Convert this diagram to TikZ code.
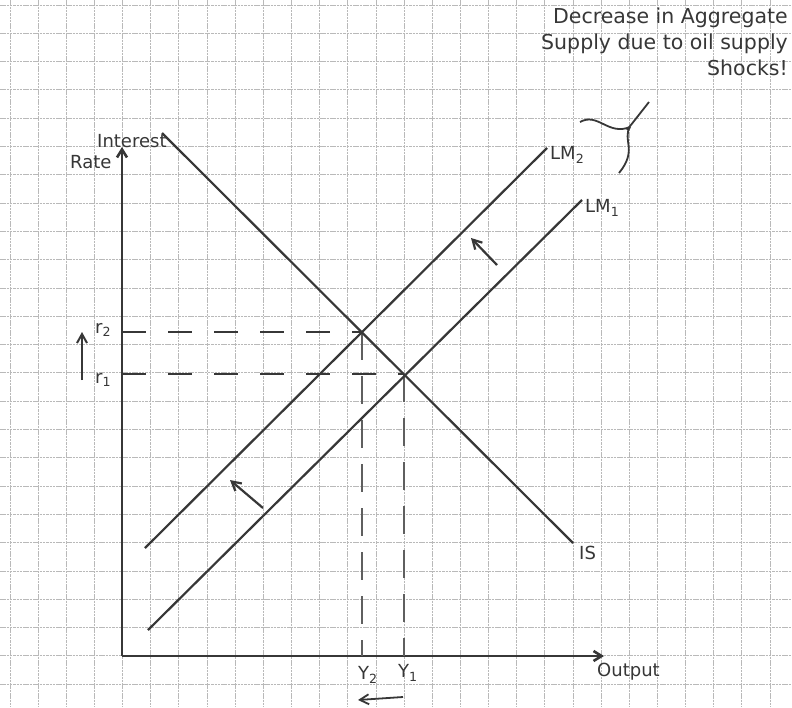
\documentclass[tikz,border=0pt]{standalone}
\usepackage{fontspec}
\setmainfont{DejaVu Sans}
\usetikzlibrary{arrows.meta}
\definecolor{pencil}{RGB}{55,55,55}
\definecolor{gridc}{RGB}{185,185,185}
\tikzset{
  gridline/.style={draw=gridc,line width=0.9pt,dash pattern=on 2.5pt off 0.8pt},
  curve/.style={draw=pencil,line width=2.2pt},
  axisline/.style={draw=pencil,line width=2.6pt},
  hdash/.style={draw=pencil,line width=2.2pt,dash pattern=on 24pt off 22pt},
  vdash/.style={draw=pencil!80,line width=2.8pt,dash pattern=on 28pt off 16pt},
  shiftarrow/.style={draw=pencil,line width=2.2pt,-{Straight Barb[length=9pt,width=10pt]}},
  hand/.style={text=pencil,font=\fontsize{18}{20}\selectfont,inner sep=0pt},
  title/.style={text=pencil,font=\fontsize{20.5}{26}\selectfont,inner sep=0pt,align=right}
}
\begin{document}
\begin{tikzpicture}[x=1pt,y=-1pt]
\useasboundingbox (0,0) rectangle (792,707);
\fill[white] (0,0) rectangle (792,707);
% grid
\foreach \i in {0,...,27} \draw[gridline] ({10+28.15*\i},0) -- ({10+28.15*\i},707);
\foreach \j in {0,...,24} \draw[gridline] (0,{5+28.3*\j}) -- (792,{5+28.3*\j});
% coordinates
\coordinate (O) at (122,656);
\coordinate (ytop) at (122,147);
\coordinate (xend) at (604,656);
\coordinate (IS1) at (162,133);
\coordinate (IS2) at (573,543);
\coordinate (LMa1) at (148,630);
\coordinate (LMa2) at (582,200);
\coordinate (LMb1) at (145,548);
\coordinate (LMb2) at (547,148);
\coordinate (E1) at (404,374);
\coordinate (E2) at (362,332);
\coordinate (r1y) at (122,374);
\coordinate (r2y) at (122,332);
\coordinate (y1x) at (404,656);
\coordinate (y2x) at (362,656);
% axes
\draw[axisline,-{Straight Barb[length=8pt,width=10pt]}] (O) -- (ytop);
\draw[axisline,-{Straight Barb[length=8pt,width=10pt]}] (O) -- (xend);
% dashed guides
\draw[hdash] (r2y) -- (E2);
\draw[hdash] (r1y) -- (E1);
\draw[vdash] (E2) -- (y2x);
\draw[vdash] (E1) -- (y1x);
% curves
\draw[curve] (IS1) -- (IS2);
\draw[curve] (LMa1) -- (LMa2);
\draw[curve] (LMb1) -- (LMb2);
% shift arrows
\coordinate (sa1) at (263,508); \coordinate (sa2) at (230,480);
\coordinate (sb1) at (497,265); \coordinate (sb2) at (471,238);
\draw[shiftarrow] (sa1) -- (sa2);
\draw[shiftarrow] (sb1) -- (sb2);
\coordinate (ra1) at (82,380); \coordinate (ra2) at (82,332);
\draw[shiftarrow,line width=2pt] (ra1) -- (ra2);
\coordinate (ya1) at (403,697); \coordinate (ya2) at (358,700);
\draw[shiftarrow,line width=1.8pt] (ya1) -- (ya2);
% brace
\draw[curve,line width=1.8pt] (580,122) .. controls (598,112) and (608,136) .. (630,127);
\draw[curve,line width=1.8pt] (630,127) .. controls (622,140) and (638,150) .. (619,173);
\draw[curve,line width=1.8pt] (627,130) -- (649,102);
% labels
\node[hand,anchor=west] (lbint) at (97,141) {Interest};
\node[hand,anchor=west] (lbrate) at (70,162) {Rate};
\node[hand,anchor=west] (lblm2) at (550,155) {LM\textsubscript{2}};
\node[hand,anchor=west] (lblm1) at (585,208) {LM\textsubscript{1}};
\node[hand,anchor=west] (lbis) at (579,553) {IS};
\node[hand,anchor=west] (lbout) at (597,672) {Output};
\node[hand,anchor=west] (lbr2) at (95,330) {r\textsubscript{2}};
\node[hand,anchor=west] (lbr1) at (95,380) {r\textsubscript{1}};
\node[hand] (lby2) at (368,675) {Y\textsubscript{2}};
\node[hand] (lby1) at (408,673) {Y\textsubscript{1}};
\node[title,anchor=north east] (lbtitle) at (788,8) {Decrease in Aggregate\\Supply due to oil supply\\Shocks!};
\end{tikzpicture}
\end{document}
